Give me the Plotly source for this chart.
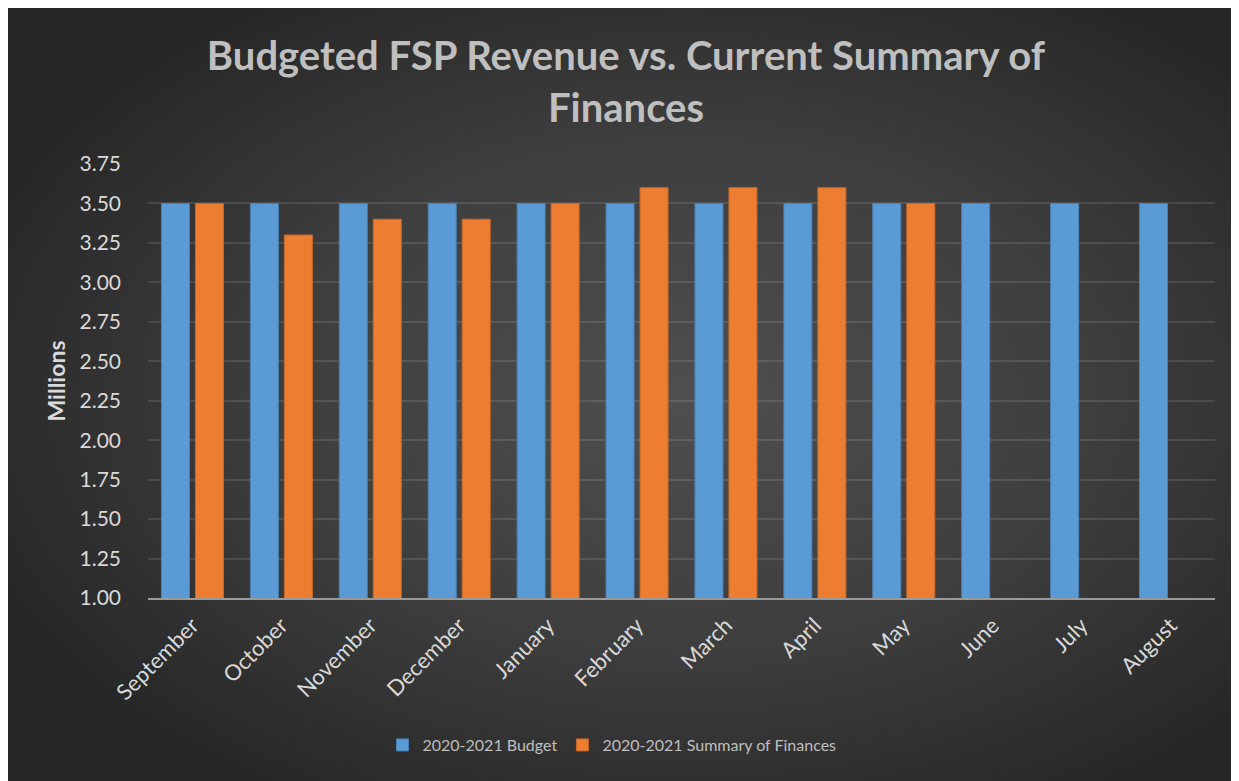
import base64
import plotly.graph_objects as go

months = ["September", "October", "November", "December", "January", "February",
          "March", "April", "May", "June", "July", "August"]
budget = [3.5, 3.5, 3.5, 3.5, 3.5, 3.5, 3.5, 3.5, 3.5, 3.5, 3.5, 3.5]
summary = [3.5, 3.3, 3.4, 3.4, 3.5, 3.6, 3.6, 3.6, 3.5, None, None, None]
y_ticks = [1.00, 1.25, 1.50, 1.75, 2.00, 2.25, 2.50, 2.75, 3.00, 3.25, 3.50, 3.75]

PAGE_W, PAGE_H = 1239, 781
OFF = 8  # page body margin offset
W, H = PAGE_W - OFF, PAGE_H - OFF
# plot area in page pixels (from reference)
PX0, PX1, PY0, PY1 = 148, 1215, 164, 598
L = PX0 - OFF
T = PY0 - OFF
R = W - (PX1 - OFF)
B = H - (PY1 - OFF)
pw, ph = W - L - R, H - T - B

def px_x(px):
    return (px - OFF - L) / pw

def px_y(py):
    return (H - B - (py - OFF)) / ph

svg = (
    f'<svg xmlns="http://www.w3.org/2000/svg" width="{W}" height="{H}" '
    f'viewBox="0 0 {W} {H}" preserveAspectRatio="none">'
    '<defs><radialGradient id="g" cx="0.55" cy="0.5" r="0.62">'
    '<stop offset="0" stop-color="#4f4f4f"/>'
    '<stop offset="0.55" stop-color="#3d3d3d"/>'
    '<stop offset="1" stop-color="#262626"/>'
    '</radialGradient></defs>'
    f'<rect width="{W}" height="{H}" fill="url(#g)"/></svg>'
)
bg_src = "data:image/svg+xml;base64," + base64.b64encode(svg.encode()).decode()

font_family = "Lato, 'Open Sans', sans-serif"

fig = go.Figure()
fig.add_trace(go.Bar(
    x=months, y=budget, name="2020-2021 Budget",
    marker=dict(color="#5B9BD5", line=dict(color="#4a80b3", width=1)),
))
fig.add_trace(go.Bar(
    x=months, y=summary, name="2020-2021 Summary of Finances",
    marker=dict(color="#ED7D31", line=dict(color="#c7692a", width=1)),
))

fig.update_layout(
    width=W, height=H,
    margin=dict(l=L, r=R, t=T, b=B, autoexpand=False),
    paper_bgcolor="#2f2f2f",
    plot_bgcolor="rgba(0,0,0,0)",
    barmode="group",
    bargap=0.235,
    bargroupgap=0.176,
    font=dict(family=font_family, color="#d9d9d9"),
    title=dict(
        text="<b>Budgeted FSP Revenue vs. Current Summary of<br>Finances</b>",
        font=dict(family=font_family, size=40, color="#bfbfbf"),
        xref="paper", x=px_x(626), xanchor="center",
        yref="container", y=1 - (70 - OFF) / H, yanchor="middle",
    ),
    images=[dict(
        source=bg_src, xref="paper", yref="paper",
        x=-L / pw, y=1 + T / ph, sizex=W / pw, sizey=H / ph,
        xanchor="left", yanchor="top", sizing="stretch", layer="below",
    )],
    xaxis=dict(
        tickangle=-45,
        tickfont=dict(size=22, color="#d9d9d9"),
        showgrid=False,
        showline=True, linecolor="#9a9a9a", linewidth=2,
        ticks="",
        ticklabelstandoff=4,
    ),
    yaxis=dict(
        range=[1.0, 3.75],
        tickvals=y_ticks,
        tickformat=".2f",
        tickfont=dict(size=21, color="#d9d9d9"),
        showgrid=True, gridcolor="rgba(255,255,255,0.11)", gridwidth=1.5,
        zeroline=False, showline=False, ticks="",
        ticklabelstandoff=26,
        title=dict(text="<b>Millions</b>", font=dict(size=23, color="#d9d9d9"), standoff=7),
    ),
    legend=dict(
        orientation="h", xanchor="center", yanchor="middle",
        x=px_x(612), y=px_y(745),
        font=dict(size=16, color="#bfbfbf"),
        bgcolor="rgba(0,0,0,0)",
        itemwidth=30,
    ),
)

fig.write_html("out.html")
